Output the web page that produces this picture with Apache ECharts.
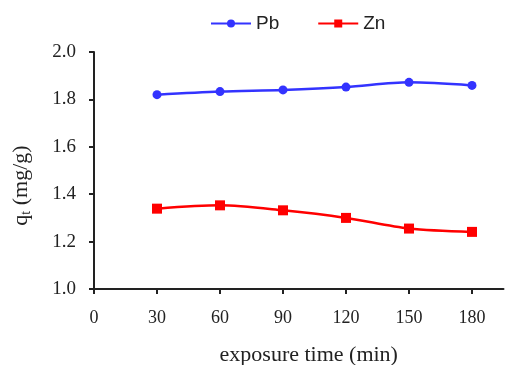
<!DOCTYPE html>
<html>
<head>
<meta charset="utf-8">
<script src="https://cdn.jsdelivr.net/npm/echarts@6/dist/echarts.min.js"></script>
<style>
html, body { margin: 0; padding: 0; background: #fff; }
#main { width: 505px; height: 365px; }
</style>
</head>
<body>
<div id="main"></div>
<script>
// exposure time (min)
var times = [30, 60, 90, 120, 150, 180];
var xTicks = [0, 30, 60, 90, 120, 150, 180];
var pb = [1.820, 1.833, 1.840, 1.852, 1.872, 1.859];
var zn = [1.339, 1.353, 1.332, 1.300, 1.255, 1.241];

function pairs(ys) {
    return times.map(function (t, i) { return [t, ys[i]]; });
}

var myChart = echarts.init(document.getElementById('main'));

var serif = '"Liberation Serif", "DejaVu Serif", serif';

var option = {
    animation: false,
    legend: {
        top: 9,
        left: 205,
        itemWidth: 40,
        itemHeight: 10,
        itemGap: 38,
        textStyle: { fontFamily: '"Liberation Sans", Arial, sans-serif', fontSize: 19, color: '#222' },
        data: ['Pb', 'Zn']
    },
    grid: { left: 94, top: 52, right: 1.5, bottom: 76, containLabel: false, outerBoundsMode: 'none' },
    xAxis: {
        type: 'value',
        min: 0,
        max: 195,
        interval: 30,
        name: 'exposure time (min)',
        nameLocation: 'middle',
        nameGap: 55,
        nameTextStyle: { fontFamily: serif, fontSize: 22, color: '#222', padding: [0, 0, 0, 20] },
        axisLine: { lineStyle: { color: '#222', width: 2 } },
        axisTick: { show: true, length: 5, lineStyle: { color: '#222', width: 2 }, customValues: xTicks },
        axisLabel: { fontFamily: serif, fontSize: 18, color: '#222', margin: 20, customValues: xTicks },
        splitLine: { show: false }
    },
    yAxis: {
        type: 'value',
        min: 1.0,
        max: 2.0,
        interval: 0.2,
        name: '{a|q}{b|t}{a| (mg/g)}',
        nameLocation: 'middle',
        nameGap: 61,
        nameTextStyle: {
            padding: [0, 30, 0, 0],
            rich: {
                a: { fontFamily: serif, fontSize: 22, color: '#222' },
                b: { fontFamily: serif, fontSize: 14, color: '#222', padding: [10, 0, 0, 0] }
            }
        },
        axisLine: { show: true, lineStyle: { color: '#222', width: 2 } },
        axisTick: { show: true, length: 5, lineStyle: { color: '#222', width: 2 } },
        axisLabel: {
            fontFamily: serif, fontSize: 19, color: '#222', margin: 18,
            formatter: function (v) { return v.toFixed(1); }
        },
        splitLine: { show: false }
    },
    series: [
        {
            name: 'Pb',
            type: 'line',
            smooth: 0.3,
            symbol: 'circle',
            symbolSize: 9,
            data: pairs(pb),
            itemStyle: { color: '#3333ff' },
            lineStyle: { color: '#3333ff', width: 2.5 }
        },
        {
            name: 'Zn',
            type: 'line',
            smooth: 0.3,
            symbol: 'rect',
            symbolSize: 10,
            data: pairs(zn),
            itemStyle: { color: '#ff0000' },
            lineStyle: { color: '#ff0000', width: 2.5 }
        }
    ]
};

myChart.setOption(option);
window.onresize = myChart.resize;
</script>
</body>
</html>
